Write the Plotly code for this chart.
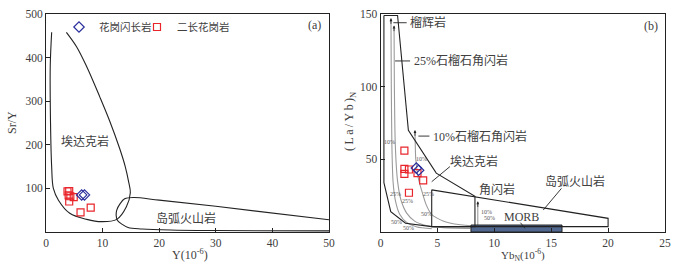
import plotly.graph_objects as go

# ---------------- Panel (a): Sr/Y vs Y ----------------
gd_a_y = [6.3, 6.8]                     # 花岗闪长岩 Y
gd_a_sry = [85, 85]                     # 花岗闪长岩 Sr/Y
mg_a_y = [3.8, 4.1, 4.0, 4.3, 4.9, 4.1, 6.1, 7.9]     # 二长花岗岩 Y
mg_a_sry = [93, 94, 84, 82, 80, 70, 45, 56]          # 二长花岗岩 Sr/Y

adk_a_x = [1.0, 0.75, 0.8, 1.0, 1.3, 2.2, 4.2, 7.2, 9.8, 12.5, 14.2, 14.9, 14.6, 14.0, 13.0, 11.3, 9.5, 7.2, 5.4, 3.6]
adk_a_y = [458, 380, 250, 150, 100, 73, 43, 29, 23.7, 29, 58, 90, 115, 150, 192, 253, 310, 379, 425, 458]
arc_a_x = [50, 30, 20, 15.5, 13.9, 13.1, 12.5, 12.4, 12.6, 13.4, 14.5, 17, 22, 30, 50]
arc_a_y = [28, 59, 73, 79, 76, 65, 50, 38, 27, 18, 10.5, 7, 4.5, 3.3, 2.5]

a_xticks = [0, 10, 20, 30, 40, 50]
a_yticks = [100, 200, 300, 400, 500]

# ---------------- Panel (b): (La/Yb)N vs YbN ----------------
gd_b_yb = [3.15, 3.35]
gd_b_layb = [44, 42.5]
mg_b_yb = [2.1, 2.1, 2.5, 2.1, 3.25, 3.75, 2.5]
mg_b_layb = [56, 43.5, 43, 40, 40.5, 35.5, 27]

adk_b_x = [0.3, 1.5, 2.45, 4.9, 8.3, 8.3, 4.5, 2.2, 0.9, 0.3, 0.3]
adk_b_y = [149, 149, 70, 40.5, 24.5, 3.7, 3.7, 6, 14, 34, 149]
arc_b_x = [4.5, 20, 20, 4.5, 4.5]
arc_b_y = [29, 9.4, 3.7, 3.7, 29]
morb_x = [7.95, 15.95, 15.95, 7.95, 7.95]
morb_y = [0, 0, 4.8, 4.8, 0]

ecl_x = [0.92, 0.95, 1.0, 1.1, 1.3, 1.7, 2.3, 3.2, 4.5]
ecl_y = [147, 100, 60, 35, 22, 12, 6.5, 3.5, 2.3]
g25_x = [1.19, 1.22, 1.3, 1.5, 1.8, 2.3, 3.0, 4.0, 5.5, 7.9]
g25_y = [142, 100, 60, 35, 22, 13, 7.5, 4.5, 3.0, 2.5]
g10_x = [3.03, 3.1, 3.3, 3.6, 4.0, 4.5, 5.5, 6.5, 8.0]
g10_y = [70, 50, 38, 29, 19, 12, 7.5, 5.5, 4.2]
amph_x = [8.55, 8.55]
amph_y = [4, 21]

pct_labels = ["10%", "10%", "25%", "25%", "25%", "50%", "50%", "50%", "10%", "50%"]
pct_x = [0.8, 3.6, 1.3, 2.4, 4.2, 1.4, 2.5, 4.0, 9.3, 9.6]
pct_y = [62, 50, 26, 21, 26, 7, 2.6, 12.5, 14, 9.5]

leader_x = [[1.13, 2.3], [1.28, 2.6], [3.33, 4.3], [6.1, 4.5], [15.9, 14.3], [12.3, 12.7]]
leader_y = [[144, 144], [117.7, 117.7], [66, 66], [45, 34.6], [30, 15.1], [6.4, 2.5]]

b_xticks = [0, 5, 10, 15, 20, 25]
b_yticks = [50, 100, 150]

FONT = "Liberation Serif, Noto Sans CJK SC"
LINE = "#222222"
RED = "#e8252b"
BLUE = "#2a2f9c"
TXT = "#404040"

fig = go.Figure()

# panel (a) fields
fig.add_trace(go.Scatter(x=adk_a_x, y=adk_a_y, mode="lines", line=dict(color=LINE, width=1.1, shape="spline", smoothing=1.0),
                         showlegend=False, hoverinfo="skip", xaxis="x", yaxis="y"))
fig.add_trace(go.Scatter(x=arc_a_x, y=arc_a_y, mode="lines", line=dict(color=LINE, width=1.1, shape="spline", smoothing=1.0),
                         showlegend=False, hoverinfo="skip", xaxis="x", yaxis="y"))
fig.add_trace(go.Scatter(x=mg_a_y, y=mg_a_sry, mode="markers", name="二长花岗岩", legend="legend2",
                         marker=dict(symbol="square-open", size=7, color=RED, line=dict(width=1.2)), xaxis="x", yaxis="y"))
fig.add_trace(go.Scatter(x=gd_a_y, y=gd_a_sry, mode="markers", name="花岗闪长岩", legend="legend",
                         marker=dict(symbol="diamond-open", size=8, color=BLUE, line=dict(width=1.2)), xaxis="x", yaxis="y"))

# panel (b) grey curves
for cx, cy in [(ecl_x, ecl_y), (g25_x, g25_y), (g10_x, g10_y), (amph_x, amph_y)]:
    fig.add_trace(go.Scatter(x=cx, y=cy, mode="lines", line=dict(color="#9a9a9a", width=1.1, shape="spline", smoothing=0.6),
                             showlegend=False, hoverinfo="skip", xaxis="x2", yaxis="y2"))
# MORB box
fig.add_trace(go.Scatter(x=morb_x, y=morb_y, mode="lines", fill="toself", fillcolor="#506890",
                         line=dict(color="#222", width=1), showlegend=False, hoverinfo="skip", xaxis="x2", yaxis="y2"))
# fields
for fx, fy in [(adk_b_x, adk_b_y), (arc_b_x, arc_b_y)]:
    fig.add_trace(go.Scatter(x=fx, y=fy, mode="lines", line=dict(color=LINE, width=1.1),
                             showlegend=False, hoverinfo="skip", xaxis="x2", yaxis="y2"))
for lx, ly in zip(leader_x, leader_y):
    fig.add_trace(go.Scatter(x=lx, y=ly, mode="lines", line=dict(color=LINE, width=0.9),
                             showlegend=False, hoverinfo="skip", xaxis="x2", yaxis="y2"))
fig.add_trace(go.Scatter(x=mg_b_yb, y=mg_b_layb, mode="markers", showlegend=False,
                         marker=dict(symbol="square-open", size=7, color=RED, line=dict(width=1.2)), xaxis="x2", yaxis="y2"))
fig.add_trace(go.Scatter(x=gd_b_yb, y=gd_b_layb, mode="markers", showlegend=False,
                         marker=dict(symbol="diamond-open", size=8, color=BLUE, line=dict(width=1.2)), xaxis="x2", yaxis="y2"))

ann = []
def txt(t, x, y, xref, yref, size=12, xanchor="center", color=TXT, angle=0):
    ann.append(dict(text=t, x=x, y=y, xref=xref, yref=yref, showarrow=False, xanchor=xanchor, yanchor="middle",
                    font=dict(family=FONT, size=size, color=color), textangle=angle))

# panel (a) texts
txt("埃达克岩", 6.9, 207, "x", "y")
txt("岛弧火山岩", 24.7, 31, "x", "y")
txt("(a)", 47.5, 475, "x", "y", size=12)
# panel (b) texts
txt("榴辉岩", 2.45, 144, "x2", "y2", xanchor="left")
txt("25%石榴石角闪岩", 2.75, 117.7, "x2", "y2", xanchor="left")
txt("10%石榴石角闪岩", 4.4, 66, "x2", "y2", xanchor="left")
txt("埃达克岩", 8.2, 48.4, "x2", "y2")
txt("角闪岩", 10.2, 29, "x2", "y2")
txt("岛弧火山岩", 17.1, 34.6, "x2", "y2")
txt("MORB", 12.4, 10.5, "x2", "y2")
txt("(b)", 23.8, 142, "x2", "y2")
for t, x, y in zip(pct_labels, pct_x, pct_y):
    txt(t, x, y, "x2", "y2", size=6, color="#555")
# arrows at curve tops
for cx, cy in [(ecl_x, ecl_y), (g25_x, g25_y), (g10_x, g10_y), (amph_x[::-1], amph_y[::-1])]:
    ann.append(dict(x=cx[0], y=cy[0], xref="x2", yref="y2", ax=0, ay=7, showarrow=True, arrowhead=2,
                    arrowsize=0.7, arrowwidth=0.8, arrowcolor="#222", text=""))
# axis titles
txt("Sr/Y", 12 / 681, 1 - 123 / 271, "paper", "paper", size=12, angle=-90)
txt("Y(10<sup>-6</sup>)", 190 / 681, 1 - 254 / 271, "paper", "paper", size=12)
txt("(\u2009L\u2009a\u2009/\u2009Y\u2009b\u2009)<sub>N</sub>", 350 / 681, 1 - 122 / 271, "paper", "paper", size=12, angle=-90)
txt("Yb<sub>N</sub>(10<sup>-6</sup>)", 523 / 681, 1 - 255 / 271, "paper", "paper", size=11)

axis_common = dict(showgrid=False, zeroline=False, showline=True, linecolor="#222", linewidth=1, mirror=True,
                   ticks="inside", ticklen=4, tickcolor="#222", tickfont=dict(family=FONT, size=11.5, color=TXT),
                   automargin=False)
ybot = 39 / 271
ytop = 257 / 271
fig.update_layout(
    width=681, height=271, margin=dict(l=0, r=0, t=0, b=0, autoexpand=False),
    paper_bgcolor="white", plot_bgcolor="white",
    xaxis=dict(domain=[46 / 681, 329 / 681], range=[0, 50], tickvals=a_xticks, anchor="y", **axis_common),
    yaxis=dict(domain=[ybot, ytop], range=[0, 500], tickvals=a_yticks, anchor="x", **axis_common),
    xaxis2=dict(domain=[380.5 / 681, 665 / 681], range=[0, 25], tickvals=b_xticks, anchor="y2", **axis_common),
    yaxis2=dict(domain=[ybot, ytop], range=[0, 150], tickvals=b_yticks, anchor="x2", **axis_common),
    legend=dict(x=59 / 681, y=1 - 27 / 271, xanchor="left", yanchor="middle", bgcolor="rgba(0,0,0,0)",
                font=dict(family=FONT, size=10.5, color=TXT), itemwidth=30, tracegroupgap=0),
    legend2=dict(x=137 / 681, y=1 - 27 / 271, xanchor="left", yanchor="middle", bgcolor="rgba(0,0,0,0)",
                 font=dict(family=FONT, size=10.5, color=TXT), itemwidth=30, tracegroupgap=0),
    annotations=ann,
)
fig.write_html("out.html", config={"displayModeBar": False},
               post_script="document.body.style.margin='0';document.body.style.overflow='hidden';")
